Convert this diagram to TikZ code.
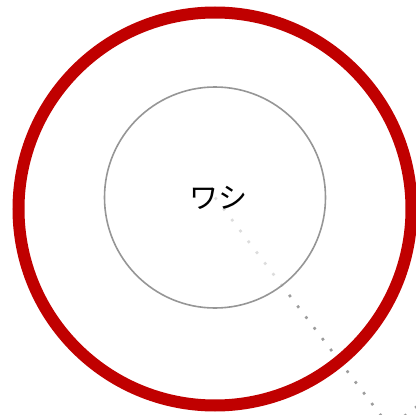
\documentclass[tikz,border=0pt]{standalone}
\usepackage{fontspec}
\newfontfamily\cjk{Noto Sans CJK JP}
\usetikzlibrary{backgrounds}
\definecolor{ringred}{HTML}{C00000}
\definecolor{ringgray}{HTML}{969696}
\definecolor{dotgray}{HTML}{9C9C9C}
\tikzset{
  outerring/.style={circle, draw=ringred, line width=12pt, minimum size=393pt, inner sep=0pt},
  innerring/.style={circle, draw=ringgray, line width=1.6pt, minimum size=221pt, inner sep=0pt,
    fill=white, fill opacity=0.65, text opacity=1, font=\cjk\fontsize{29pt}{32pt}\selectfont},
  dotline/.style={draw=dotgray, line width=2.6pt, dash pattern=on 2.6pt off 11pt}
}
\begin{document}
\begin{tikzpicture}[x=1pt,y=-1pt]
\useasboundingbox (0,0) rectangle (416,415);
\begin{scope}
\clip (0,0) rectangle (416,415);
\coordinate (far) at (392,430);
\coordinate (cA) at (428,398);
\coordinate (cB) at (394,424);
\node[innerring] (inner) at (215,197.5) {\hspace*{6pt}ワシ};
\node[outerring] (outer) at (215,209) {};
\begin{scope}[on background layer]
  \draw[dotline] (inner.center) -- (far);
  \draw[dotline] (cA) -- (cB);
\end{scope}
\end{scope}
\end{tikzpicture}
\end{document}
